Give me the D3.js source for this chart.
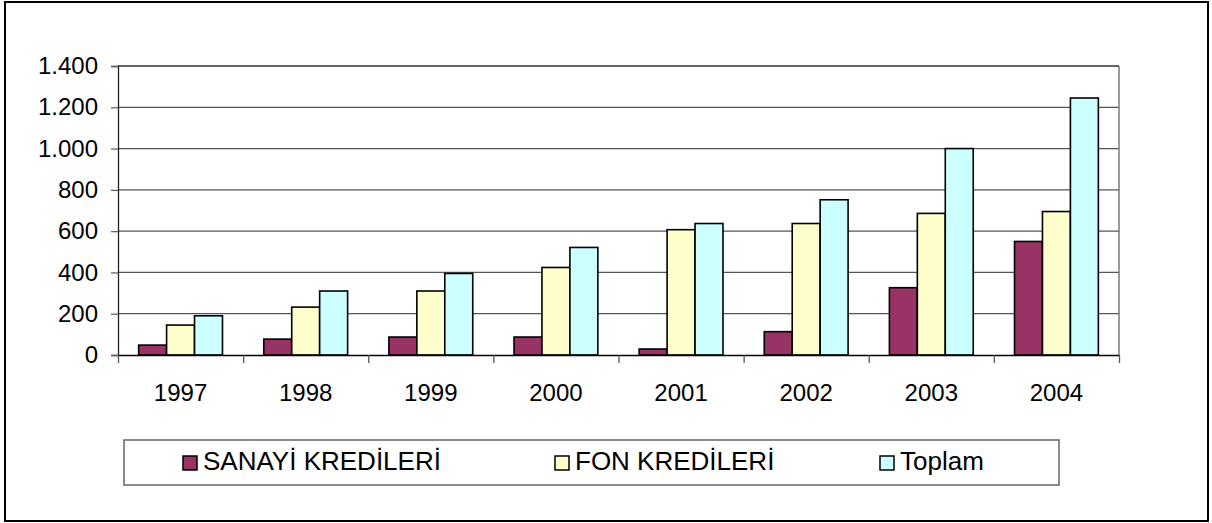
<!DOCTYPE html>
<html>
<head>
<meta charset="utf-8">
<script src="https://cdn.jsdelivr.net/npm/d3@7"></script>
<style>
  body { margin: 0; background: #fff; }
  svg text { font-family: "Liberation Sans", Arial, sans-serif; fill: #000; }
</style>
</head>
<body>
<script>
'use strict';

// data
const years = ["1997", "1998", "1999", "2000", "2001", "2002", "2003", "2004"];
const seriesNames = ["SANAYİ KREDİLERİ", "FON KREDİLERİ", "Toplam"];
const sanayi = [48, 77, 87, 87, 29, 113, 326, 550];
const fon = [145, 232, 310, 424, 607, 637, 686, 695];
const toplam = [190, 310, 395, 521, 637, 752, 1000, 1245];
const yTicks = [0, 200, 400, 600, 800, 1000, 1200, 1400];
const seriesColors = ["#993366", "#FFFFCC", "#CCFFFF"];

(function() {
  const W = 1212, H = 523;
  const plot = { left: 118, right: 1119, top: 66, bottom: 355 };

  const svg = d3.select('body').append('svg')
    .attr('width', W)
    .attr('height', H);

  // outer frame
  svg.append('rect')
    .attr('x', 5).attr('y', 2)
    .attr('width', 1203).attr('height', 519)
    .attr('fill', 'none')
    .attr('stroke', '#000')
    .attr('stroke-width', 2);

  let y = d3.scaleLinear().domain([0, 1400]).range([plot.bottom, plot.top]);

  let x = d3.scaleBand().domain(years)
    .range([plot.left, plot.right])
    .paddingInner(0.33)
    .paddingOuter(0.165);

  let xs = d3.scaleBand().domain(d3.range(seriesNames.length))
    .range([0, x.bandwidth()]);

  // boundaries between categories, for ticks
  let xEdge = d3.scaleLinear().domain([0, years.length]).range([plot.left, plot.right]);

  // gridlines
  svg.append('g').selectAll('line')
    .data(yTicks.filter(d => d > 0))
    .enter().append('line')
      .attr('x1', plot.left).attr('x2', plot.right)
      .attr('y1', d => y(d)).attr('y2', d => y(d))
      .attr('stroke', d => d === 1400 ? '#333' : '#555')
      .attr('stroke-width', d => d === 1400 ? 1.6 : 1.3);

  // right border of plot area
  svg.append('line')
    .attr('x1', plot.right).attr('x2', plot.right)
    .attr('y1', plot.top).attr('y2', plot.bottom)
    .attr('stroke', '#666').attr('stroke-width', 1.3);

  // bars
  const values = [sanayi, fon, toplam];
  values.forEach(function(vals, s) {
    svg.append('g').selectAll('rect')
      .data(vals)
      .enter().append('rect')
        .attr('x', (d, i) => x(years[i]) + xs(s))
        .attr('y', d => y(d))
        .attr('width', xs.bandwidth())
        .attr('height', d => y(0) - y(d))
        .attr('fill', seriesColors[s])
        .attr('stroke', '#000')
        .attr('stroke-width', 1.6);
  });

  // y axis
  const fmt = d3.formatLocale({ decimal: ",", thousands: ".", grouping: [3], currency: ["", ""] }).format(",d");
  let yAxis = d3.axisLeft(y).tickValues(yTicks).tickFormat(fmt).tickSize(7).tickPadding(13);
  let gy = svg.append('g')
    .attr('transform', 'translate(' + plot.left + ',0)')
    .call(yAxis);
  gy.select('.domain').attr('stroke', '#222').attr('stroke-width', 1.3);
  gy.selectAll('.tick line').attr('stroke', '#666').attr('stroke-width', 1.3);
  gy.selectAll('text').style('font-size', '24px').attr('fill', '#000');

  // x axis: ticks at category boundaries
  let xAxis = d3.axisBottom(xEdge).tickValues(d3.range(years.length + 1))
    .tickFormat('').tickSize(8).tickSizeOuter(0);
  let gx = svg.append('g')
    .attr('transform', 'translate(0,' + plot.bottom + ')')
    .call(xAxis);
  gx.select('.domain').attr('stroke', '#000').attr('stroke-width', 1.4);
  gx.selectAll('.tick line').attr('stroke', '#555').attr('stroke-width', 1.3);

  // year labels
  svg.append('g').selectAll('text')
    .data(years)
    .enter().append('text')
      .attr('x', d => x(d) + x.bandwidth() / 2)
      .attr('y', 401)
      .attr('text-anchor', 'middle')
      .style('font-size', '24px')
      .text(d => d);

  // legend
  svg.append('rect')
    .attr('x', 124).attr('y', 440)
    .attr('width', 935).attr('height', 45)
    .attr('fill', '#fff')
    .attr('stroke', '#666')
    .attr('stroke-width', 1.5);

  const legendX = [183, 555, 880];
  let items = svg.append('g').selectAll('g')
    .data(seriesNames)
    .enter().append('g')
      .attr('transform', (d, i) => 'translate(' + legendX[i] + ',456)');
  items.append('rect')
    .attr('width', 14).attr('height', 14)
    .attr('fill', (d, i) => seriesColors[i])
    .attr('stroke', '#000')
    .attr('stroke-width', 1.5);
  items.append('text')
    .attr('x', 20).attr('y', 14)
    .style('font-size', '26px')
    .text(d => d);
})();
</script>
</body>
</html>
